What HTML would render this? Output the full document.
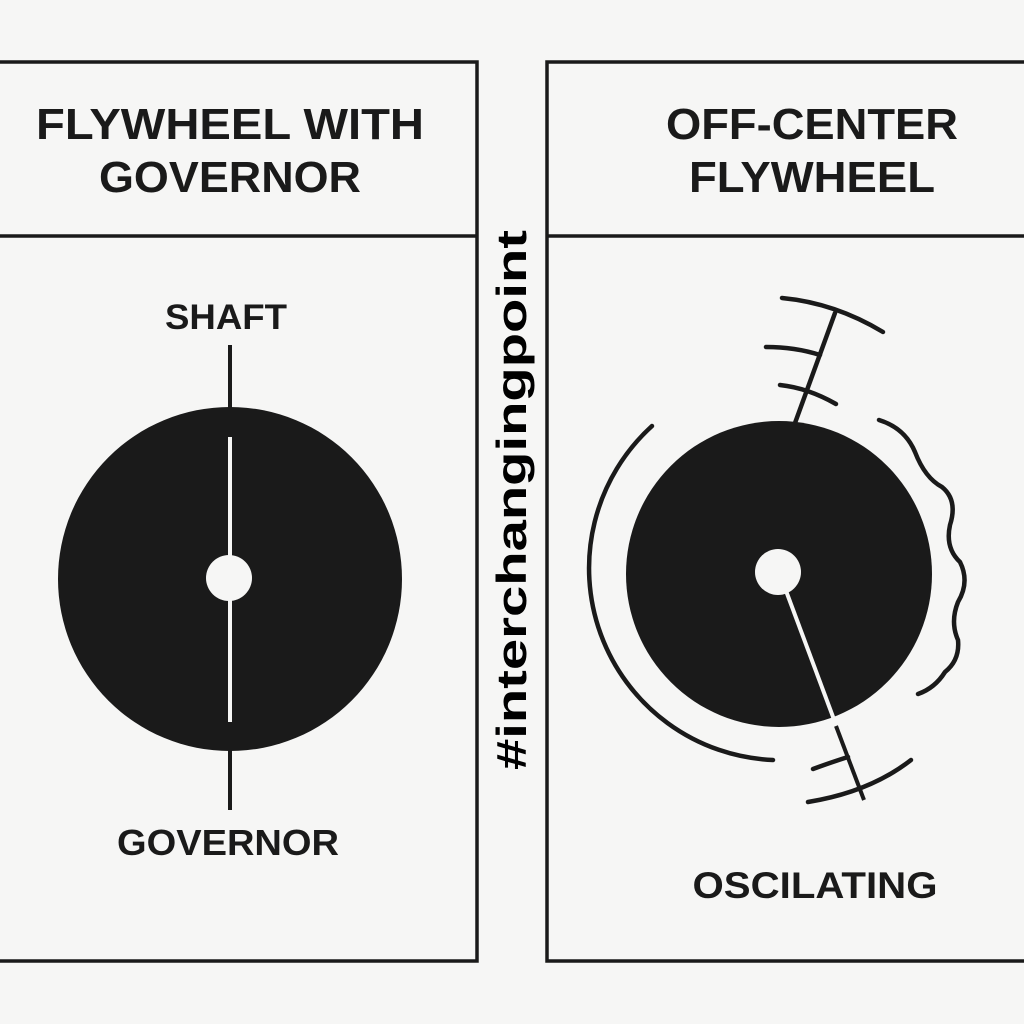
<!DOCTYPE html>
<html><head><meta charset="utf-8"><style>
html,body{margin:0;padding:0;background:#f6f6f5;}
svg{display:block;}
text{font-family:"Liberation Sans",sans-serif;font-weight:bold;fill:#1a1a1a;}
</style></head><body>
<svg width="1024" height="1024" viewBox="0 0 1024 1024" xmlns="http://www.w3.org/2000/svg">
<rect width="1024" height="1024" fill="#f6f6f5"/>
<g fill="none" stroke="#1a1a1a" stroke-width="3.5">
<rect x="-10" y="62" width="487" height="899"/>
<line x1="-10" y1="236" x2="477" y2="236"/>
<rect x="547" y="62" width="500" height="899"/>
<line x1="547" y1="236" x2="1040" y2="236"/>
</g>
<text x="230" y="139" font-size="44" textLength="388" lengthAdjust="spacingAndGlyphs" text-anchor="middle">FLYWHEEL WITH</text>
<text x="230" y="192" font-size="44" textLength="262" lengthAdjust="spacingAndGlyphs" text-anchor="middle">GOVERNOR</text>
<text x="812" y="139" font-size="44" textLength="292" lengthAdjust="spacingAndGlyphs" text-anchor="middle">OFF-CENTER</text>
<text x="812" y="192" font-size="44" textLength="246" lengthAdjust="spacingAndGlyphs" text-anchor="middle">FLYWHEEL</text>
<text x="226" y="329" font-size="35" textLength="122" lengthAdjust="spacingAndGlyphs" text-anchor="middle">SHAFT</text>
<text x="228" y="855" font-size="36" textLength="222" lengthAdjust="spacingAndGlyphs" text-anchor="middle">GOVERNOR</text>
<text x="815" y="898" font-size="37" textLength="245" lengthAdjust="spacingAndGlyphs" text-anchor="middle">OSCILATING</text>
<text transform="translate(526,500) rotate(-90)" x="0" y="0" font-size="42" textLength="540" lengthAdjust="spacingAndGlyphs" text-anchor="middle" style="fill:#000">#interchangingpoint</text>
<circle cx="230" cy="579" r="172" fill="#1a1a1a"/>
<line x1="230" y1="345" x2="230" y2="410" stroke="#1a1a1a" stroke-width="4"/>
<line x1="230" y1="748" x2="230" y2="810" stroke="#1a1a1a" stroke-width="4"/>
<line x1="230" y1="437" x2="230" y2="722" stroke="#f6f6f5" stroke-width="4"/>
<circle cx="229" cy="578" r="23" fill="#f6f6f5"/>
<circle cx="779" cy="574" r="153" fill="#1a1a1a"/>
<line x1="779" y1="572" x2="864" y2="800" stroke="#f6f6f5" stroke-width="4"/>
<line x1="836" y1="726" x2="864" y2="800" stroke="#1a1a1a" stroke-width="4"/>
<circle cx="778" cy="572" r="23" fill="#f6f6f5"/>
<g fill="none" stroke="#1a1a1a" stroke-width="4.5" stroke-linecap="round">
<line x1="795" y1="423" x2="835" y2="313"/>
<path d="M782 298 Q835 303 883 332"/>
<path d="M766 347 Q795 347 820 355"/>
<path d="M780 385 Q808 388 836 404"/>
<path d="M652 426 A192 192 0 0 0 773 760"/>
<path d="M813 769 Q832 762 848 757"/>
<path d="M808 802 Q870 792 911 760"/>
<path d="M879 420 Q905 428 915 452 Q925 478 942 487 Q958 500 950 525 Q945 548 960 562 Q970 582 958 602 Q950 622 958 640 Q960 660 945 672 Q935 688 918 694"/>
</g>
</svg>
</body></html>
